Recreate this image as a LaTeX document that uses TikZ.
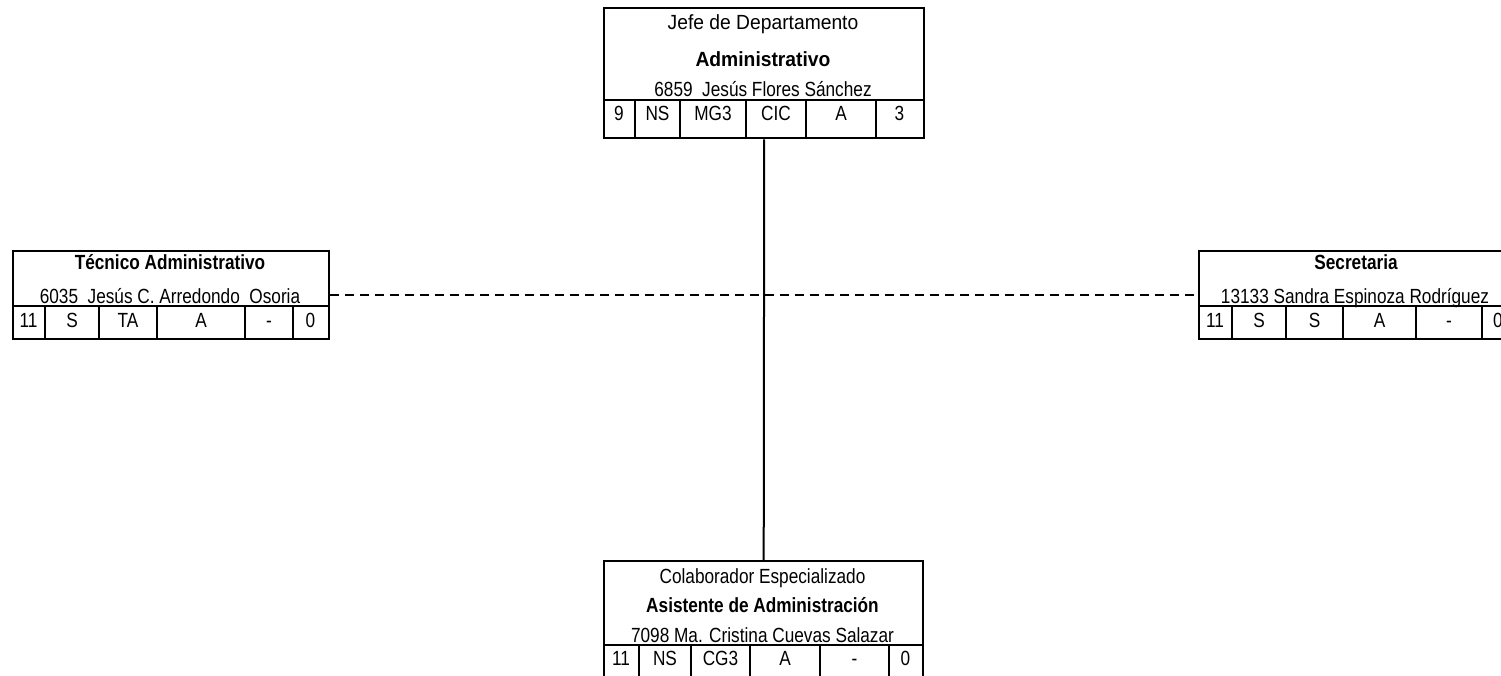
\documentclass[tikz,border=0pt]{standalone}
\usepackage{fontspec}
\setmainfont{Liberation Sans}[FakeStretch=0.84]
\newfontfamily\widefont{Liberation Sans}[FakeStretch=0.94]
\tikzset{
  orgbox/.style={draw, line width=2.4pt, inner sep=0pt, anchor=north west},
  rowtext/.style={font=\fontsize{20.5}{24}\selectfont, inner sep=0pt, anchor=base},
  boldtext/.style={rowtext, font=\fontsize{20.5}{24}\selectfont\bfseries},
  celltext/.style={rowtext},
  dotted line/.style={line width=1.6pt, dash pattern=on 9pt off 6pt}
}
\begin{document}
\begin{tikzpicture}[x=1pt,y=-1pt,line width=2pt]
  \useasboundingbox (0,0) rectangle (1501,675);
  \clip (0,0) rectangle (1501,675);

  % Jefe de Departamento
  \node[orgbox, minimum width=320pt, minimum height=130pt] (jefe) at (603,7) {};
  \node[rowtext, font=\fontsize{20.5}{24}\widefont] (jefe1) at (763,29) {Jefe de Departamento};
  \node[boldtext, font=\fontsize{20.5}{24}\widefont\bfseries] (jefe2) at (763,66.5) {Administrativo};
  \node[rowtext] (jefe3) at (763,96.5) {6859\ \ Jesús Flores Sánchez};
  \draw (603,100) -- (923,100);
  \foreach \x in {635,680,746,806,876} \draw (\x,100) -- (\x,137);
  \foreach \x/\t in {619/9,657.5/NS,713/MG3,776/CIC,841/A,899.5/3}
    \node[celltext] at (\x,120) {\t};

  % Tecnico Administrativo
  \node[orgbox, minimum width=316pt, minimum height=88pt] (tecnico) at (12,250) {};
  \node[boldtext] (tecnico1) at (170,269) {Técnico Administrativo};
  \node[rowtext] (tecnico2) at (170,303) {6035\ \ Jesús C. Arredondo\ \ Osoria};
  \draw (12,306) -- (328,306);
  \foreach \x in {45,99,157,245,293} \draw (\x,306) -- (\x,338);
  \foreach \x/\t in {28.5/11,72/S,128/TA,201/A,269/-,310.5/0}
    \node[celltext] at (\x,327) {\t};

  % Secretaria
  \node[orgbox, minimum width=316pt, minimum height=88pt] (secre) at (1198,250) {};
  \node[boldtext] (secre1) at (1356,269) {Secretaria};
  \node[rowtext] (secre2) at (1355,303) {13133 Sandra Espinoza Rodríguez};
  \draw (1198,306) -- (1514,306);
  \foreach \x in {1232,1286,1343,1416,1482} \draw (\x,306) -- (\x,338);
  \foreach \x/\t in {1215/11,1259/S,1314.5/S,1379.5/A,1449/-,1498/0}
    \node[celltext] at (\x,327) {\t};

  % Colaborador Especializado
  \node[orgbox, minimum width=319pt, minimum height=126pt] (asist) at (603,560) {};
  \node[rowtext] (asist1) at (762.5,583) {Colaborador Especializado};
  \node[boldtext] (asist2) at (762.5,612) {Asistente de Administración};
  \node[rowtext] (asist3) at (762.5,642) {7098 Ma. Cristina Cuevas Salazar};
  \draw (603,645) -- (922,645);
  \foreach \x in {639,691,750,820,889} \draw (\x,645) -- (\x,686);
  \foreach \x/\t in {621/11,665/NS,720.5/CG3,785/A,854.5/-,905.5/0}
    \node[celltext] at (\x,665) {\t};

  % connectors
  \draw (jefe.south) -- (asist.north);
  \draw[dotted line] (tecnico.east) -- (secre.west);
\end{tikzpicture}
\end{document}
